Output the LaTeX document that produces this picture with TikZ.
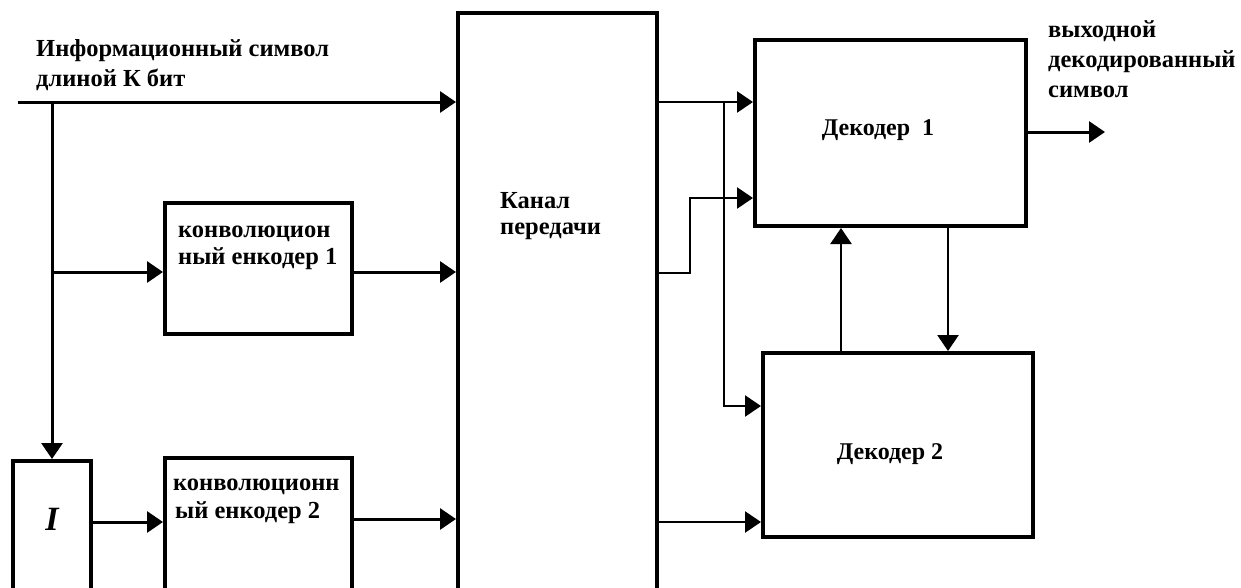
\documentclass[tikz,border=0pt]{standalone}
\usepackage{fontspec}
\setmainfont{Liberation Serif}
\usetikzlibrary{arrows.meta}
\begin{document}
\begin{tikzpicture}[x=1pt,y=-1pt,
  box/.style={draw, line width=4pt, rectangle, inner sep=0pt},
  tip/.style={-{Triangle[length=16pt,width=21pt]}},
  conn/.style={line width=3pt, tip},
  wire/.style={line width=3pt},
  thinconn/.style={line width=2.5pt, tip},
  thinwire/.style={line width=2.5pt},
  lbl/.style={font=\bfseries\fontsize{24.5}{30}\selectfont, inner sep=0pt, anchor=base west, align=left},
  declbl/.style={font=\bfseries\fontsize{24}{28}\selectfont, inner sep=0pt}]
\path[use as bounding box, clip] (0,0) rectangle (1241,587);
\fill[white] (0,0) rectangle (1241,587);

% boxes
\node[box, minimum width=199pt, minimum height=607pt] (chan) at (557.5,316.5) {};
\node[box, minimum width=187pt, minimum height=131pt] (enc1) at (258.5,268.5) {};
\node[box, minimum width=78pt, minimum height=159pt] (ibox) at (52,540.5) {};
\node[box, minimum width=187pt, minimum height=162pt] (enc2) at (258.5,539) {};
\node[box, minimum width=271pt, minimum height=186pt] (dec1) at (890.5,133) {};
\node[box, minimum width=270pt, minimum height=184pt] (dec2) at (898,445) {};

% labels
\node[lbl] (tin1) at (36,56) {Информационный символ};
\node[lbl] (tin2) at (36,86) {длиной К бит};
\node[lbl] (te1a) at (178,237) {конволюцион};
\node[lbl] (te1b) at (178,264) {ный енкодер 1};
\node[lbl] (te2a) at (173,490) {конволюционн};
\node[lbl] (te2b) at (175,518) {ый енкодер 2};
\node[lbl] (tcha) at (500,208) {Канал};
\node[lbl] (tchb) at (500,234) {передачи};
\node[lbl] (tout1) at (1048,37) {выходной};
\node[lbl] (tout2) at (1048,67) {декодированный};
\node[lbl] (tout3) at (1048,97) {символ};
\node[font=\bfseries\itshape\fontsize{34}{34}\selectfont, inner sep=0pt] (tI) at (ibox.center |- 0,519) {I};
\node[declbl] (td1) at (878,130) {Декодер\ \ 1};
\node[declbl] (td2) at (890,454) {Декодер 2};

% coordinates
\coordinate (src) at (18,102);
\coordinate (j1) at (52,102);
\coordinate (j2) at (52,272);
\coordinate (r522) at (0,522);
\coordinate (r519) at (0,519);
\coordinate (ra) at (0,102);
\coordinate (bend1) at (690,273);
\coordinate (bend2) at (690,198);
\coordinate (vt) at (724,102);
\coordinate (vb) at (724,406);
\coordinate (upx) at (841,0);
\coordinate (dnx) at (948,0);
\coordinate (outend) at (1105,132);

% left side
\draw[conn] (src) -- (src -| chan.west);
\draw[conn] (j1) -- (ibox.north);
\draw[conn] (j2) -- (j2 -| enc1.west);
\draw[conn] (enc1.east |- j2) -- (chan.west |- j2);
\draw[conn] (ibox.east |- r522) -- (enc2.west |- r522);
\draw[conn] (enc2.east |- r519) -- (chan.west |- r519);

% right side
\draw[thinconn] (chan.east |- ra) -- (dec1.west |- ra);
\draw[thinconn] (vt) -- (vb) -- (vb -| dec2.west);
\draw[thinconn] (chan.east |- bend1) -- (bend1) -- (bend2) -- (bend2 -| dec1.west);
\draw[thinconn] (chan.east |- r522) -- (dec2.west |- r522);
\draw[thinconn] (upx |- dec2.north) -- (upx |- dec1.south);
\draw[thinconn] (dnx |- dec1.south) -- (dnx |- dec2.north);
\draw[conn] (dec1.east |- outend) -- (outend);
\end{tikzpicture}
\end{document}
